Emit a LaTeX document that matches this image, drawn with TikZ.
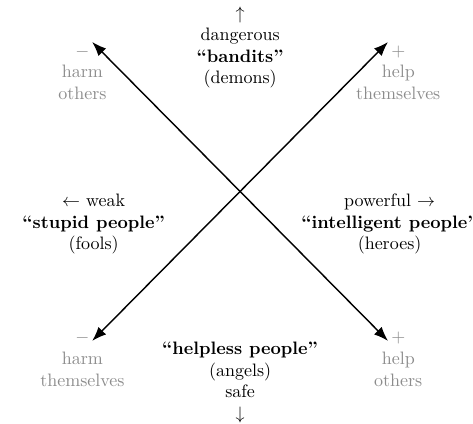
\documentclass[tikz,border=0pt]{standalone}
\usepackage{xcolor}
\definecolor{cMain}{HTML}{000000}
\definecolor{cGray}{HTML}{8C8C8C}
\usepackage{tikz}
\usetikzlibrary{positioning,arrows.meta}
\tikzset{
  node-type/.style={align=center,inner sep=1pt,font=\normalsize},
  node-axis/.style={align=center,inner sep=1pt,text=cGray},
  arrow-both/.style={{Latex[length=2.8mm,width=2.1mm]}-{Latex[length=2.8mm,width=2.1mm]},thick,draw=cMain},
}

\begin{document}
\begin{tikzpicture}
  \useasboundingbox (-46.9mm,-45.4mm) rectangle (45.5mm,37.4mm);
  % arrow end points
  \coordinate (c) at (0,0);
  \coordinate (tl) at (-28.9mm,29.2mm);
  \coordinate (tr) at (28.9mm,29.2mm);
  \coordinate (bl) at (-28.9mm,-29.2mm);
  \coordinate (br) at (28.9mm,-29.2mm);
  \draw[arrow-both] (br) -- (tl);
  \draw[arrow-both] (bl) -- (tr);
  % corner labels
  \node[node-axis] (harm-others) at (-30.8mm,23.2mm) {$-$\\harm\\others};
  \node[node-axis] (help-self) at (30.9mm,23.2mm) {$+$\\help\\themselves};
  \node[node-axis] (harm-self) at (-30.8mm,-32.8mm) {$-$\\harm\\themselves};
  \node[node-axis] (help-others) at (30.9mm,-32.8mm) {$+$\\help\\others};
  % the four types
  \node[node-type] (bandits) at (0,28.1mm)
    {$\uparrow$\\dangerous\\\textbf{``bandits''}\\(demons)};
  \node[node-type] (stupid) at (-28.6mm,-6.4mm)
    {$\leftarrow$ weak\\\textbf{``stupid people''}\\(fools)};
  \node[node-type] (intelligent) at (29.2mm,-6.4mm)
    {powerful $\rightarrow$\\\textbf{``intelligent people''}\\(heroes)};
  \node[node-type] (helpless) at (0,-37.3mm)
    {\textbf{``helpless people''}\\(angels)\\safe\\$\downarrow$};
\end{tikzpicture}
\end{document}
